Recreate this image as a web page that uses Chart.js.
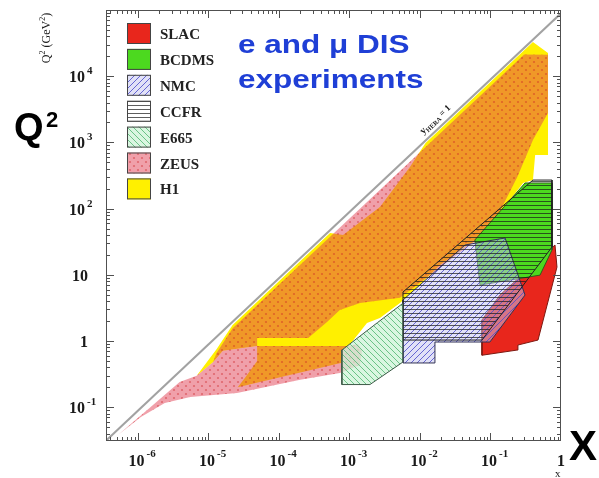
<!DOCTYPE html>
<html>
<head>
<meta charset="utf-8">
<script src="https://cdn.jsdelivr.net/npm/chart.js@4.4.1/dist/chart.umd.min.js"></script>
<style>
  html, body { margin: 0; padding: 0; background: #fff; }
  #wrap { width: 599px; height: 478px; position: relative; }
</style>
</head>
<body>
<div id="wrap"><canvas id="kin"></canvas></div>
<script>
// kinematic reach of the e and mu DIS experiments in the (x, Q^2) plane
// every region is a polygon of [x, Q2 (GeV^2)] corners

const xMin = 3.52e-7, xMax = 1;
const q2Min = 0.0309, q2Max = 1e5;

const xTicks = [1e-6, 1e-5, 1e-4, 1e-3, 1e-2, 1e-1, 1];
const xTickLabels = [["10", "-6"], ["10", "-5"], ["10", "-4"], ["10", "-3"], ["10", "-2"], ["10", "-1"], ["1", ""]];
const q2Ticks = [0.1, 1, 10, 100, 1000, 10000];
const q2TickLabels = [["10", "-1"], ["1", ""], ["10", ""], ["10", "2"], ["10", "3"], ["10", "4"]];

const legendNames = ["SLAC", "BCDMS", "NMC", "CCFR", "E665", "ZEUS", "H1"];

// y = 1 at HERA
const yHeraLine = [[3.5e-7, 0.031], [1, 89000]];

const h1 = [[6.8e-6, 0.30], [1.3e-5, 0.75], [2.2e-5, 1.75], [5.3e-4, 43], [8.1e-4, 40], [2.7e-3, 106],
  [7.2e-3, 425], [0.012, 980], [0.40, 32800], [0.654, 22400], [0.654, 645], [0.43, 645], [0.40, 270],
  [0.29, 244], [0.124, 74.7], [0.071, 37], [0.019, 14], [0.01, 7], [5.2e-3, 3.75], [2.7e-3, 2.23],
  [1.77e-3, 1.87], [9.2e-4, 0.78], [7.8e-4, 0.73], [7.8e-4, 0.47], [2.6e-5, 0.20], [3.3e-5, 0.28],
  [4.9e-5, 0.5], [4.9e-5, 0.84], [1.6e-5, 0.71], [1.16e-5, 0.48]];
const zeusMain = [[1.16e-5, 0.48], [1.3e-5, 0.66], [2.2e-5, 1.56], [0.30, 21300], [0.654, 21000],
  [0.654, 2780], [0.40, 1087], [0.24, 300], [0.124, 74.7], [0.064, 33.6], [5.2e-3, 4.5],
  [1.41e-3, 3.75], [7.3e-4, 2.94], [4.8e-4, 1.94], [2.6e-4, 1.11], [4.9e-5, 1.11], [4.9e-5, 0.84],
  [1.6e-5, 0.71]];
const zeusLow = [[5.2e-7, 0.038], [1.5e-6, 0.10], [3.9e-6, 0.24], [6.8e-6, 0.30], [1.16e-5, 0.48],
  [1.6e-5, 0.71], [4.9e-5, 0.84], [9.2e-4, 0.84], [1.32e-3, 0.9], [1.5e-3, 0.73], [1.41e-3, 0.434],
  [7.3e-4, 0.33], [2e-4, 0.26], [2.54e-5, 0.164], [5.5e-6, 0.143], [2.4e-6, 0.116], [1.1e-6, 0.071]];
const slac = [[0.0757, 2.08], [0.0757, 0.61], [0.238, 0.73], [0.245, 0.87], [0.472, 1.035],
  [0.877, 13.1], [0.822, 28.2], [0.136, 4.95]];
const bcdms = [[0.060, 33.6], [0.309, 244], [0.745, 244], [0.745, 23.7], [0.504, 9.9], [0.071, 7.0]];
const nmc = [[5.74e-3, 0.466], [0.0163, 0.466], [0.0163, 0.966], [0.098, 0.966], [0.309, 4.95],
  [0.161, 36], [0.0435, 28.2], [5.74e-3, 4.16]];
const ccfr = [[5.74e-3, 5.5], [0.40, 270], [0.745, 270], [0.745, 26.3], [0.0757, 1.035], [5.74e-3, 1.035]];
const e665 = [[7.8e-4, 0.22], [1.95e-3, 0.22], [5.7e-3, 0.48], [5.7e-3, 3.7], [2.5e-3, 1.9], [7.8e-4, 0.73]];

const canvas = document.getElementById("kin");
const mainCtx = canvas.getContext("2d");

function tile(size, bg, draw) {
  const c = document.createElement("canvas");
  c.width = size; c.height = size;
  const g = c.getContext("2d");
  if (bg) { g.fillStyle = bg; g.fillRect(0, 0, size, size); }
  draw(g, size);
  return mainCtx.createPattern(c, "repeat");
}
function stripes(colour, lw, dir) {
  return (g, s) => {
    g.strokeStyle = colour; g.lineWidth = lw;
    g.beginPath();
    for (let k = -s; k <= s; k += s) {
      if (dir > 0) { g.moveTo(k, s); g.lineTo(k + s, 0); }
      else { g.moveTo(k, 0); g.lineTo(k + s, s); }
    }
    g.stroke();
  };
}

const zeusFill = tile(8, "rgba(224,61,82,0.49)", (g, s) => {
  g.fillStyle = "rgba(205,35,40,0.45)";
  [[2, 2], [6, 6]].forEach(([cx, cy]) => { g.beginPath(); g.arc(cx, cy, 1.1, 0, Math.PI * 2); g.fill(); });
});
const nmcFill = tile(6, "rgba(195,195,240,0.5)", stripes("rgba(80,80,205,0.85)", 1, 1));
const ccfrFill = tile(4, null, (g, s) => {
  g.fillStyle = "rgba(25,25,25,0.7)"; g.fillRect(0, 1, s, 1);
});
const e665Fill = tile(6, "rgba(205,243,215,0.75)", stripes("rgba(95,190,125,0.9)", 1, -1));

function poly(arr) {
  return arr.concat([arr[0]]).map(([x, y]) => ({ x, y }));
}
function region(label, arr, bg, border, order) {
  return {
    label, data: poly(arr), backgroundColor: bg,
    borderColor: border || "rgba(0,0,0,0)", borderWidth: border ? 1 : 0,
    fill: "shape", showLine: true, pointRadius: 0, tension: 0, order
  };
}

const datasets = [
  { label: "yHERA", data: poly(yHeraLine).slice(0, 2), borderColor: "#a2a2a2", borderWidth: 2,
    fill: false, showLine: true, pointRadius: 0, order: 0 },
  region("E665", e665, e665Fill, "#3d5a47", 1),
  region("CCFR", ccfr, ccfrFill, "#222", 2),
  region("NMC", nmc, nmcFill, "#333355", 3),
  region("BCDMS", bcdms, "#4cd91f", "#2f5f1a", 4),
  region("SLAC", slac, "#e8261c", "#7d1810", 5),
  region("ZEUS", zeusLow, zeusFill, null, 6),
  region("ZEUS", zeusMain, zeusFill, null, 7),
  region("H1", h1, "#fff000", null, 8)
];

const SERIF = '"Liberation Serif", "DejaVu Serif", serif';
const SANS = '"Liberation Sans", Arial, sans-serif';

// pieces: [text, fontPx, raise]
function drawPieces(ctx, pieces, x, y, bold) {
  let cx = x;
  pieces.forEach(([t, size, raise]) => {
    ctx.font = (bold ? "bold " : "") + size + "px " + SERIF;
    ctx.fillText(t, cx, y - raise);
    cx += ctx.measureText(t).width;
  });
  return cx - x;
}
function piecesWidth(ctx, pieces, bold) {
  let w = 0;
  pieces.forEach(([t, size]) => {
    ctx.font = (bold ? "bold " : "") + size + "px " + SERIF;
    w += ctx.measureText(t).width;
  });
  return w;
}

const frame = {
  id: "frame",
  afterDatasetsDraw(chart) {
    const { ctx, chartArea: a, scales: { x, y } } = chart;
    ctx.save();
    ctx.strokeStyle = "#505050";
    ctx.lineWidth = 1;
    ctx.strokeRect(a.left + 0.5, a.top + 0.5, a.right - a.left - 1, a.bottom - a.top - 1);
    ctx.beginPath();
    for (let e = -7; e <= 5; e++) {
      for (let m = 1; m <= 9; m++) {
        const v = m * Math.pow(10, e);
        const len = m === 1 ? 8 : 4;
        if (v > xMin && v < xMax) {
          const px = Math.round(x.getPixelForValue(v)) + 0.5;
          ctx.moveTo(px, a.bottom); ctx.lineTo(px, a.bottom - len);
          ctx.moveTo(px, a.top); ctx.lineTo(px, a.top + len);
        }
        if (v > q2Min && v < q2Max) {
          const py = Math.round(y.getPixelForValue(v)) + 0.5;
          ctx.moveTo(a.left, py); ctx.lineTo(a.left + len, py);
          ctx.moveTo(a.right, py); ctx.lineTo(a.right - len, py);
        }
      }
    }
    ctx.stroke();

    ctx.fillStyle = "#1a1a1a";
    ctx.textBaseline = "alphabetic";
    ctx.textAlign = "left";
    xTicks.forEach((v, i) => {
      const [base, exp] = xTickLabels[i];
      const px = x.getPixelForValue(v);
      ctx.font = "bold 16px " + SERIF;
      const bw = ctx.measureText(base).width;
      const bx = exp ? px - 1.5 - bw / 2 : px - bw / 2;
      ctx.fillText(base, bx, 466);
      if (exp) { ctx.font = "bold 11px " + SERIF; ctx.fillText(exp, bx + bw + 2, 457); }
    });
    q2Ticks.forEach((v, i) => {
      const [base, exp] = q2TickLabels[i];
      const py = y.getPixelForValue(v);
      ctx.font = "bold 16px " + SERIF;
      const bw = ctx.measureText(base).width;
      const right = exp ? 85 : 88;
      ctx.fillText(base, right - bw, py + 6);
      if (exp) { ctx.font = "bold 11px " + SERIF; ctx.fillText(exp, right + 2, py - 2); }
    });

    // label along the y = 1 line
    const p1 = { x: x.getPixelForValue(yHeraLine[0][0]), y: y.getPixelForValue(yHeraLine[0][1]) };
    const p2 = { x: x.getPixelForValue(yHeraLine[1][0]), y: y.getPixelForValue(yHeraLine[1][1]) };
    const ang = Math.atan2(p2.y - p1.y, p2.x - p1.x);
    const t = (x.getPixelForValue(0.02) - p1.x) / (p2.x - p1.x);
    const lx = p1.x + t * (p2.x - p1.x) + Math.sin(ang) * 9;
    const ly = p1.y + t * (p2.y - p1.y) - Math.cos(ang) * 9;
    ctx.translate(lx, ly);
    ctx.rotate(ang);
    const lab = [["y", 10, 0], ["HERA", 6.5, -2], [" = 1", 9, 0]];
    drawPieces(ctx, lab, -piecesWidth(ctx, lab, true) / 2, 3, true);
    ctx.restore();
  }
};

const decorations = {
  id: "decorations",
  afterDraw(chart) {
    const ctx = chart.ctx;
    ctx.save();
    ctx.textAlign = "left";
    ctx.textBaseline = "alphabetic";

    // legend boxes
    legendNames.forEach((name, i) => {
      const ds = chart.data.datasets.find(d => d.label === name);
      const top = 23 + i * 25.9;
      ctx.fillStyle = "#fff";
      ctx.fillRect(127, top, 24, 21);
      ctx.fillStyle = ds.backgroundColor;
      ctx.fillRect(127, top, 24, 21);
      ctx.strokeStyle = "#444";
      ctx.lineWidth = 1;
      ctx.strokeRect(127.5, top + 0.5, 23, 20);
      ctx.fillStyle = "#222";
      ctx.font = "bold 15px " + SERIF;
      ctx.fillText(name, 160, top + 16);
    });

    // title
    ctx.save();
    ctx.fillStyle = "#1f3fd6";
    ctx.font = "bold 25px " + SANS;
    ctx.translate(238, 0);
    ctx.scale(1.26, 1);
    ctx.fillText("e and \u03bc DIS", 0, 53);
    ctx.fillText("experiments", 0, 88);
    ctx.restore();

    // big axis letters
    ctx.fillStyle = "#000";
    ctx.font = "bold 38px " + SANS;
    ctx.fillText("Q", 14, 140);
    ctx.font = "bold 22px " + SANS;
    ctx.fillText("2", 46, 127);
    ctx.font = "bold 42px " + SANS;
    ctx.fillText("X", 569, 460);

    // small axis titles
    ctx.fillStyle = "#1a1a1a";
    ctx.font = "11px " + SERIF;
    ctx.fillText("x", 555, 477);
    ctx.save();
    ctx.translate(46, 38);
    ctx.rotate(-Math.PI / 2);
    const q = [["Q", 12, 0], ["2", 8, 5], [" (GeV", 12, 0], ["2", 8, 5], [")", 12, 0]];
    drawPieces(ctx, q, -piecesWidth(ctx, q, false) / 2, 4, false);
    ctx.restore();

    ctx.restore();
  }
};

new Chart(canvas, {
  type: "scatter",
  data: { datasets },
  options: {
    responsive: true,
    maintainAspectRatio: false,
    animation: false,
    events: [],
    layout: { padding: { left: 106, right: 38, top: 10, bottom: 37 } },
    scales: {
      x: { type: "logarithmic", min: xMin, max: xMax, display: false },
      y: { type: "logarithmic", min: q2Min, max: q2Max, display: false }
    },
    plugins: { legend: { display: false }, tooltip: { enabled: false } }
  },
  plugins: [frame, decorations]
});
</script>
</body>
</html>
